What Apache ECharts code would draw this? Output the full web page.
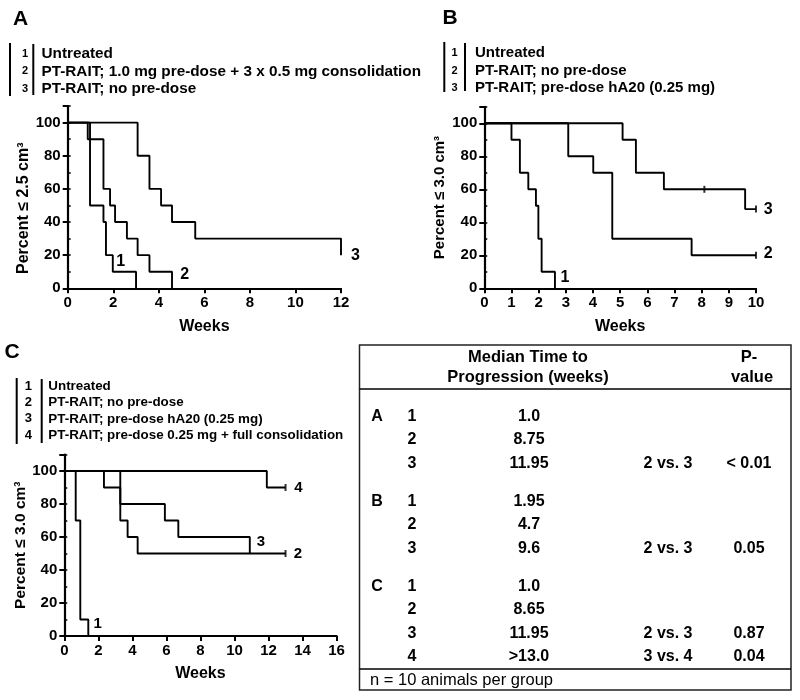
<!DOCTYPE html>
<html>
<head>
<meta charset="utf-8">
<script src="https://cdn.jsdelivr.net/npm/echarts@6/dist/echarts.min.js"></script>
<style>html,body{margin:0;padding:0;background:#fff}#c{width:800px;height:700px}</style>
</head>
<body>
<div id="c"></div>
<script>
// ---------------- DATA ----------------
// Panel A (Percent <= 2.5 cm3 vs weeks)
const a1 = [[0,100],[0.98,50],[1.57,40],[1.68,20],[1.98,10],[3.0,0]];
const a2 = [[0,100],[0.88,90],[1.57,60],[1.86,50],[2.08,40],[2.6,30],[3.07,20],[3.59,10],[4.58,0]];
const a3 = [[0,100],[3.07,80],[3.59,60],[4.1,50],[4.58,40],[5.6,30],[12,20]];
const aCensor = [];
// Panel B (Percent <= 3.0 cm3)
const b1 = [[0,100],[1.0,90],[1.31,70],[1.62,60],[1.9,50],[1.99,30],[2.11,10],[2.6,0]];
const b2 = [[0,100],[3.09,80],[4.01,70],[4.71,30],[7.63,20],[10,20]];
const b3 = [[0,100],[5.09,90],[5.58,70],[6.61,60],[9.6,48],[10,48]];
const bCensor = [[10,20],[8.1,60],[10,48]];
// Panel C (Percent <= 3.0 cm3)
const c1 = [[0,100],[0.67,70],[0.94,10],[1.41,0]];
const c2 = [[0,100],[3.29,70],[3.72,60],[4.31,50],[13,50]];
const c3 = [[0,100],[2.33,90],[3.29,80],[5.91,70],[6.7,60],[10.9,50]];
const c4 = [[0,100],[11.9,90],[13,90]];
const cCensor = [[13,50],[13,90]];
// curve label anchors [week, percent, text]
const aCurveLabels = [[2.33,16,'1'],[5.14,8,'2'],[12.63,20,'3']];
const bCurveLabels = [[2.97,6.5,'1'],[10.45,21,'2'],[10.45,47.5,'3']];
const cCurveLabels = [[1.96,7.5,'1'],[13.72,50,'2'],[11.55,57,'3'],[13.75,89.5,'4']];
// axis ranges / ticks
const xMaxA = 12, xStepA = 2;
const xMaxB = 10, xStepB = 1;
const xMaxC = 16, xStepC = 2;
const yMax = 110, yStep = 20, yMinorStep = 10;
const yNameA = 'Percent \u2264 2.5 cm\u00B3';
const yNameB = 'Percent \u2264 3.0 cm\u00B3';
const yNameC = 'Percent \u2264 3.0 cm\u00B3';
const xName = 'Weeks';
const panelLetters = ['A','B','C'];
// legends
const legendA = ['Untreated','PT-RAIT; 1.0 mg pre-dose + 3 x 0.5 mg consolidation','PT-RAIT; no pre-dose'];
const legendB = ['Untreated','PT-RAIT; no pre-dose','PT-RAIT; pre-dose hA20 (0.25 mg)'];
const legendC = ['Untreated','PT-RAIT; no pre-dose','PT-RAIT; pre-dose hA20 (0.25 mg)','PT-RAIT; pre-dose 0.25 mg + full consolidation'];
// table
const tableHeaderMedian = ['Median Time to','Progression (weeks)'];
const tableHeaderP = ['P-','value'];
const tablePanel = ['A','','','B','','','C','','',''];
const tableGroup = ['1','2','3','1','2','3','1','2','3','4'];
const tableMedian = ['1.0','8.75','11.95','1.95','4.7','9.6','1.0','8.65','11.95','>13.0'];
const tableComparison = ['','','2 vs. 3','','','2 vs. 3','','','2 vs. 3','3 vs. 4'];
const tablePValue = ['','','< 0.01','','','0.05','','','0.87','0.04'];
const tableFooter = 'n = 10 animals per group';

// ---------------- LAYOUT / STYLE ----------------
const FF = "'Liberation Sans', Arial, Helvetica, sans-serif";
const grids = [
  {left:67.7, top:106.1, width:273.3, height:182.2},
  {left:484.3, top:106.8, width:271.7, height:181.5},
  {left:64.3, top:454.5, width:272.3, height:181.5}
];
const xCfg = [[xMaxA,xStepA],[xMaxB,xStepB],[xMaxC,xStepC]];
const yNames = [yNameA,yNameB,yNameC];
const yNameStyle = [
  {size:16, gap:36, pad:[0,22,0,0]},
  {size:15, gap:37, pad:[0,0,0,0]},
  {size:15.5, gap:35, pad:[0,0,0,0]}
];
const xNameGap = [30,30,30];

const xAxes = xCfg.map((c,i)=>({
  type:'value', gridIndex:i, min:0, max:c[0], interval:c[1],
  name:xName, nameLocation:'middle', nameGap:xNameGap[i],
  nameTextStyle:{fontFamily:FF,fontWeight:'bold',fontSize:16,color:'#000'},
  axisLine:{show:true,onZero:false,lineStyle:{color:'#000',width:2.2}},
  axisTick:{show:true,length:5,lineStyle:{color:'#000',width:2}},
  axisLabel:{fontFamily:FF,fontWeight:'bold',fontSize:15,color:'#000',margin:7},
  splitLine:{show:false}
}));
const yAxes = [];
grids.forEach((g,i)=>{
  const ns = yNameStyle[i];
  yAxes.push({
    type:'value', gridIndex:i, min:0, max:yMax, interval:yStep,
    name:yNames[i], nameLocation:'middle', nameGap:ns.gap, nameRotate:90,
    nameTextStyle:{fontFamily:FF,fontWeight:'bold',fontSize:ns.size,color:'#000',padding:ns.pad},
    axisLine:{show:true,onZero:false,lineStyle:{color:'#000',width:2.2}},
    axisTick:{show:true,length:5,lineStyle:{color:'#000',width:2}},
    axisLabel:{fontFamily:FF,fontWeight:'bold',fontSize:15,color:'#000',margin:7,
      formatter:v=> v>100?'':String(v)},
    splitLine:{show:false}
  });
  yAxes.push({
    type:'value', gridIndex:i, min:0, max:yMax, interval:yMinorStep,
    axisLine:{show:false},
    axisTick:{show:true,length:3,lineStyle:{color:'#000',width:1.5}},
    axisLabel:{show:false}, splitLine:{show:false}
  });
});

const series = [];
function addCurves(curves, gi){
  curves.forEach(d=>series.push({
    type:'line', xAxisIndex:gi, yAxisIndex:gi*2, data:d, step:'end',
    showSymbol:false, symbol:'none', silent:true, clip:false,
    lineStyle:{color:'#000',width:1.9}
  }));
}
function addCensor(pts, gi){
  if(!pts.length) return;
  series.push({type:'scatter', xAxisIndex:gi, yAxisIndex:gi*2, data:pts, clip:false,
    symbol:'rect', symbolSize:[2,7], itemStyle:{color:'#000'}, silent:true});
}
function addLabels(lbls, gi, fs){
  series.push({type:'scatter', xAxisIndex:gi, yAxisIndex:gi*2, data:lbls, clip:false,
    symbol:'circle', symbolSize:2, itemStyle:{color:'rgba(255,255,255,0)'}, silent:true,
    label:{show:true, position:'inside', formatter:p=>p.data[2],
      fontFamily:FF, fontWeight:'bold', fontSize:fs, color:'#000',
      textBorderWidth:0, textBorderColor:'transparent', opacity:1}});
}
addCurves([a1,a2,a3],0); addCensor(aCensor,0); addLabels(aCurveLabels,0,16);
addCurves([b1,b2,b3],1); addCensor(bCensor,1); addLabels(bCurveLabels,1,16);
addCurves([c1,c2,c3,c4],2); addCensor(cCensor,2); addLabels(cCurveLabels,2,15);

// ---------------- GRAPHIC (letters, legends, table) ----------------
const G = [];
function txt(x,y,text,size,weight,align,valign){
  G.push({type:'text', x:x, y:y, silent:true, style:{text:text, font:(weight||'bold')+' '+size+'px '+FF,
    fill:'#000', align:align||'left', verticalAlign:valign||'middle'}});
}
function ln(x1,y1,x2,y2,w){
  G.push({type:'line', silent:true, shape:{x1,y1,x2,y2}, style:{stroke:'#000', lineWidth:w||2}});
}
// panel letters
txt(20.5,19.5,panelLetters[0],21,'bold','center');
txt(450,18.5,panelLetters[1],21,'bold','center');
txt(12,352.5,panelLetters[2],21,'bold','center');

function legend(items, o){
  ln(o.bar1, o.top, o.bar1, o.bottom, 2);
  ln(o.bar2, o.top+1, o.bar2, o.bottom-1, 2);
  items.forEach((t,i)=>{
    const y = o.y0 + i*o.dy;
    txt(o.num, y, String(i+1), o.numSize, 'bold', 'center');
    txt(o.text, y, t, o.size, 'bold', 'left');
  });
}
legend(legendA,{bar1:10,bar2:33.3,num:25,text:41.5,top:43,bottom:96,y0:53.5,dy:17.8,size:15.3,numSize:11});
legend(legendB,{bar1:444.3,bar2:465,num:454.5,text:475,top:42,bottom:92,y0:53.3,dy:17.5,size:15,numSize:11});
legend(legendC,{bar1:16.7,bar2:41.7,num:28.3,text:48.3,top:378,bottom:444,y0:386.5,dy:16.2,size:13.4,numSize:13});

// table
const T = {x1:359.5, x2:791, y1:345, y2:690, hdr:389, ftr:669};
G.push({type:'rect', silent:true, shape:{x:T.x1,y:T.y1,width:T.x2-T.x1,height:T.y2-T.y1},
  style:{fill:'none', stroke:'#222', lineWidth:1.5}});
ln(T.x1,T.hdr,T.x2,T.hdr,1.5);
ln(T.x1,T.ftr,T.x2,T.ftr,1.5);
txt(528,357.5,tableHeaderMedian[0],16.5,'bold','center');
txt(528,377.5,tableHeaderMedian[1],16.5,'bold','center');
txt(749,357.5,tableHeaderP[0],16.5,'bold','center');
txt(752,377.5,tableHeaderP[1],16.5,'bold','center');
let ry = 416.5;
tablePanel.forEach((p,i)=>{
  if(i>0){ ry += 23.3; if(p!=='') ry += 15.2; }
  if(p) txt(377,ry,p,16,'bold','center');
  txt(412,ry,tableGroup[i],16,'bold','center');
  txt(529,ry,tableMedian[i],16,'bold','center');
  if(tableComparison[i]) txt(668,ry,tableComparison[i],16,'bold','center');
  if(tablePValue[i]) txt(749,ry,tablePValue[i],16,'bold','center');
});
txt(370,680,tableFooter,16.5,'normal','left');

const chart = echarts.init(document.getElementById('c'), null, {renderer:'canvas'});
chart.setOption({
  animation:false,
  backgroundColor:'#fff',
  textStyle:{fontFamily:FF},
  grid:grids.map(g=>Object.assign({containLabel:false},g)),
  xAxis:xAxes,
  yAxis:yAxes,
  series:series,
  graphic:{elements:G}
});
</script>
</body>
</html>
